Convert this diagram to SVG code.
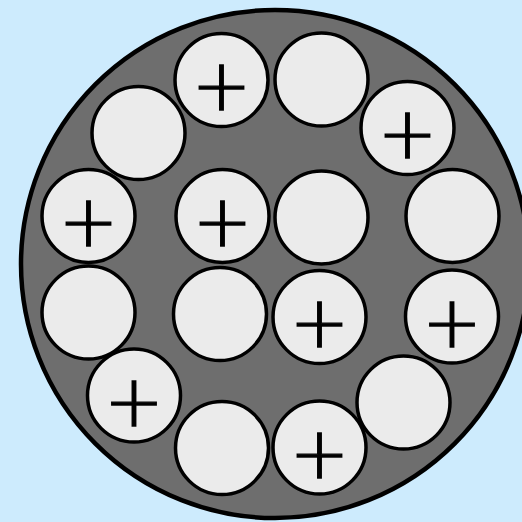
<svg xmlns="http://www.w3.org/2000/svg" width="522" height="522" viewBox="0 0 522 522">
<style>
.bg{fill:#cdebfd}
.well{fill:#6e6e6e;stroke:#000;stroke-width:4.5}
.ion{fill:#ebebeb;stroke:#000;stroke-width:3.5}
.plus{font-family:"DejaVu Sans",sans-serif;font-weight:200;font-size:71px;text-anchor:middle;fill:#000;stroke:#000;stroke-width:1.4}
</style>
<rect class="bg" x="0" y="0" width="522" height="522"/>
<g id="well"><circle class="well" cx="275" cy="264" r="254"/></g>
<g id="a1"><circle class="ion" cx="221.5" cy="80" r="46.5"/><text class="plus" x="221.5" y="110">+</text></g>
<g id="a2"><circle class="ion" cx="321.5" cy="79.5" r="46.5"/></g>
<g id="a3"><circle class="ion" cx="407.5" cy="128" r="46.5"/><text class="plus" x="407.5" y="158">+</text></g>
<g id="a4"><circle class="ion" cx="452.5" cy="216" r="46.5"/></g>
<g id="a5"><circle class="ion" cx="452" cy="316.5" r="46.5"/><text class="plus" x="452" y="346.5">+</text></g>
<g id="a6"><circle class="ion" cx="403.5" cy="402.5" r="46.5"/></g>
<g id="a7"><circle class="ion" cx="319.5" cy="447.5" r="46.5"/><text class="plus" x="319.5" y="477.5">+</text></g>
<g id="a8"><circle class="ion" cx="222" cy="448" r="46.5"/></g>
<g id="a9"><circle class="ion" cx="134" cy="395.5" r="46.5"/><text class="plus" x="134" y="425.5">+</text></g>
<g id="a10"><circle class="ion" cx="88.5" cy="312.5" r="46.5"/></g>
<g id="a11"><circle class="ion" cx="88.5" cy="216" r="46.5"/><text class="plus" x="88.5" y="246">+</text></g>
<g id="a12"><circle class="ion" cx="138.5" cy="133" r="46.5"/></g>
<g id="i1"><circle class="ion" cx="222.5" cy="216" r="46.5"/><text class="plus" x="222.5" y="246">+</text></g>
<g id="i2"><circle class="ion" cx="321.5" cy="217.5" r="46.5"/></g>
<g id="i3"><circle class="ion" cx="220" cy="314" r="46.5"/></g>
<g id="i4"><circle class="ion" cx="319.5" cy="317" r="46.5"/><text class="plus" x="319.5" y="347">+</text></g>
<g id="connectors"/>
</svg>
